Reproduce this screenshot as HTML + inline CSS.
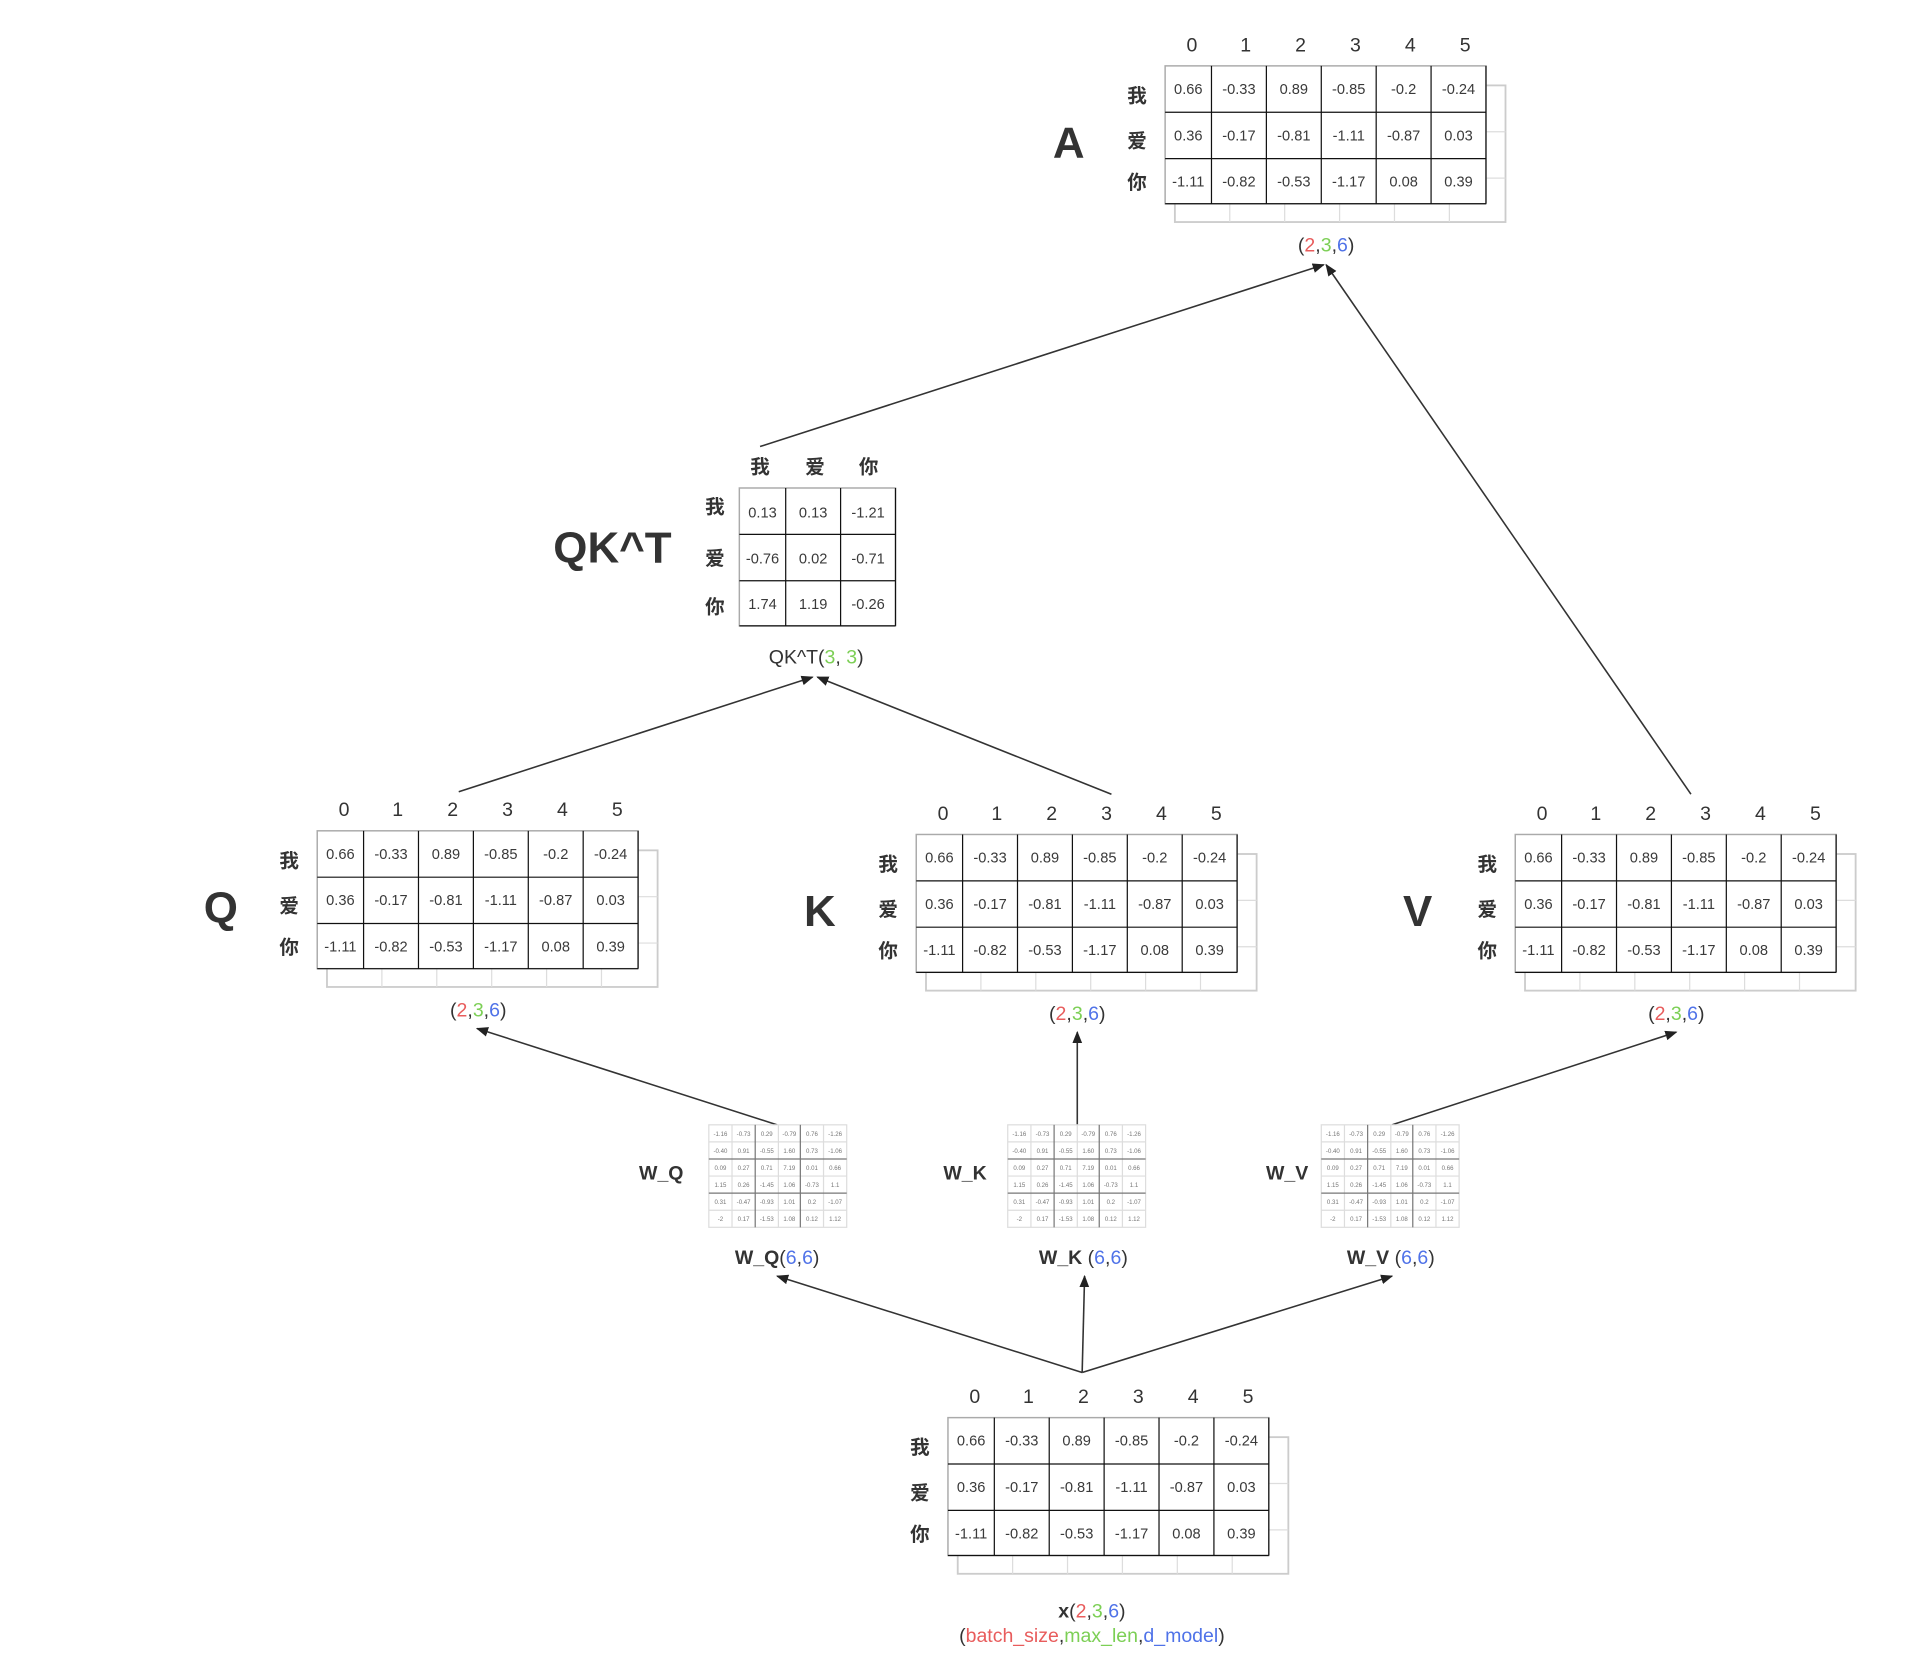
<!DOCTYPE html>
<html><head><meta charset="utf-8"><style>
html,body{margin:0;padding:0;background:#fff;}
svg{display:block;}
text{font-family:"Liberation Sans","Noto Sans CJK SC",sans-serif;fill:#333;}
.n{font-size:12px;text-anchor:middle;fill:#3a3a3a;}
.h{font-size:16px;text-anchor:middle;}
.c{font-size:16px;font-weight:bold;text-anchor:middle;font-family:"Noto Sans CJK SC","WenQuanYi Zen Hei",sans-serif;}
.big{font-size:36px;font-weight:bold;text-anchor:middle;}
.lab{font-size:16px;text-anchor:middle;}
.w{font-size:5px;text-anchor:middle;fill:#777;}
.r{fill:#e85c5c;}.g{fill:#7ccf55;}.b{fill:#4f72e8;}
</style></head><body>
<svg width="1913" height="1672" viewBox="0 0 1568 1370.5" xmlns="http://www.w3.org/2000/svg">
<defs>
<marker id="ar" markerWidth="10" markerHeight="10" refX="9" refY="5" orient="auto" markerUnits="userSpaceOnUse">
<path d="M0,1 L10,5 L0,9 z" fill="#222"/></marker>
<g id="mat">
<rect x="8" y="16" width="271" height="112" fill="#fff" stroke="#ccc" stroke-width="1.5"/>
<g stroke="#ddd" stroke-width="1">
<line x1="53" y1="113" x2="53" y2="128"/><line x1="98" y1="113" x2="98" y2="128"/><line x1="143" y1="113" x2="143" y2="128"/><line x1="188" y1="113" x2="188" y2="128"/><line x1="233" y1="113" x2="233" y2="128"/>
<line x1="263" y1="54" x2="279" y2="54"/><line x1="263" y1="92" x2="279" y2="92"/>
</g>
<rect x="0" y="0" width="263" height="113" fill="#fff" stroke="#aaa" stroke-width="1.2"/>
<g stroke="#111" stroke-width="1">
<line x1="38" y1="0" x2="38" y2="113"/><line x1="83" y1="0" x2="83" y2="113"/><line x1="128" y1="0" x2="128" y2="113"/><line x1="173" y1="0" x2="173" y2="113"/><line x1="218" y1="0" x2="218" y2="113"/>
<line x1="0" y1="38" x2="263" y2="38"/><line x1="0" y1="76" x2="263" y2="76"/>
<line x1="0" y1="113" x2="263" y2="113"/><line x1="263" y1="0" x2="263" y2="113"/>
</g>
<text class="n" x="19" y="23">0.66</text><text class="n" x="60.5" y="23">-0.33</text><text class="n" x="105.5" y="23">0.89</text><text class="n" x="150.5" y="23">-0.85</text><text class="n" x="195.5" y="23">-0.2</text><text class="n" x="240.5" y="23">-0.24</text>
<text class="n" x="19" y="61">0.36</text><text class="n" x="60.5" y="61">-0.17</text><text class="n" x="105.5" y="61">-0.81</text><text class="n" x="150.5" y="61">-1.11</text><text class="n" x="195.5" y="61">-0.87</text><text class="n" x="240.5" y="61">0.03</text>
<text class="n" x="19" y="99">-1.11</text><text class="n" x="60.5" y="99">-0.82</text><text class="n" x="105.5" y="99">-0.53</text><text class="n" x="150.5" y="99">-1.17</text><text class="n" x="195.5" y="99">0.08</text><text class="n" x="240.5" y="99">0.39</text>
<text class="h" x="22" y="-12">0</text><text class="h" x="66" y="-12">1</text><text class="h" x="111" y="-12">2</text><text class="h" x="156" y="-12">3</text><text class="h" x="201" y="-12">4</text><text class="h" x="246" y="-12">5</text>
<text class="c" x="-23" y="30">我</text><text class="c" x="-23" y="67">爱</text><text class="c" x="-23" y="101">你</text>
</g>
<g id="wm">
<rect x="0" y="0" width="113" height="84" fill="#fff" stroke="#ddd"/>
<g stroke="#ddd"><line x1="19" y1="0" x2="19" y2="84"/><line x1="57" y1="0" x2="57" y2="84"/><line x1="94" y1="0" x2="94" y2="84"/><line x1="0" y1="14" x2="113" y2="14"/><line x1="0" y1="42" x2="113" y2="42"/><line x1="0" y1="70" x2="113" y2="70"/></g>
<g stroke="#777"><line x1="38" y1="0" x2="38" y2="84"/><line x1="75" y1="0" x2="75" y2="84"/><line x1="0" y1="28" x2="113" y2="28"/><line x1="0" y1="56" x2="113" y2="56"/></g>
<text class="w" x="9.5" y="9">-1.16</text><text class="w" x="28.5" y="9">-0.73</text><text class="w" x="47.5" y="9">0.29</text><text class="w" x="66" y="9">-0.79</text><text class="w" x="84.5" y="9">0.76</text><text class="w" x="103.5" y="9">-1.26</text>
<text class="w" x="9.5" y="23">-0.40</text><text class="w" x="28.5" y="23">0.91</text><text class="w" x="47.5" y="23">-0.55</text><text class="w" x="66" y="23">1.60</text><text class="w" x="84.5" y="23">0.73</text><text class="w" x="103.5" y="23">-1.06</text>
<text class="w" x="9.5" y="37">0.09</text><text class="w" x="28.5" y="37">0.27</text><text class="w" x="47.5" y="37">0.71</text><text class="w" x="66" y="37">7.19</text><text class="w" x="84.5" y="37">0.01</text><text class="w" x="103.5" y="37">0.66</text>
<text class="w" x="9.5" y="51">1.15</text><text class="w" x="28.5" y="51">0.26</text><text class="w" x="47.5" y="51">-1.45</text><text class="w" x="66" y="51">1.06</text><text class="w" x="84.5" y="51">-0.73</text><text class="w" x="103.5" y="51">1.1</text>
<text class="w" x="9.5" y="65">0.31</text><text class="w" x="28.5" y="65">-0.47</text><text class="w" x="47.5" y="65">-0.93</text><text class="w" x="66" y="65">1.01</text><text class="w" x="84.5" y="65">0.2</text><text class="w" x="103.5" y="65">-1.07</text>
<text class="w" x="9.5" y="79">-2</text><text class="w" x="28.5" y="79">0.17</text><text class="w" x="47.5" y="79">-1.53</text><text class="w" x="66" y="79">1.08</text><text class="w" x="84.5" y="79">0.12</text><text class="w" x="103.5" y="79">1.12</text>
</g>
</defs>

<!-- arrows -->
<g stroke="#333" stroke-width="1.3" fill="none" marker-end="url(#ar)">
<line x1="887" y1="1125" x2="637" y2="1046"/>
<line x1="887" y1="1125" x2="889" y2="1046"/>
<line x1="887" y1="1125" x2="1141" y2="1046"/>
<line x1="637" y1="922" x2="391" y2="843"/>
<line x1="883" y1="922" x2="883" y2="846"/>
<line x1="1141" y1="922" x2="1374" y2="846"/>
<line x1="376" y1="649" x2="666" y2="555"/>
<line x1="911" y1="651" x2="670" y2="555"/>
<line x1="623" y1="366" x2="1085" y2="217"/>
<line x1="1386" y1="651" x2="1087" y2="217"/>
</g>

<!-- A -->
<use href="#mat" x="955" y="54"/>
<text class="big" x="876" y="129">A</text>
<text class="lab" x="1087" y="206">(<tspan class="r">2</tspan>,<tspan class="g">3</tspan>,<tspan class="b">6</tspan>)</text>

<!-- QK^T -->
<g transform="translate(606,400)">
<rect x="0" y="0" width="128" height="113" fill="#fff" stroke="#aaa" stroke-width="1.2"/>
<g stroke="#111"><line x1="38" y1="0" x2="38" y2="113"/><line x1="83" y1="0" x2="83" y2="113"/><line x1="0" y1="38" x2="128" y2="38"/><line x1="0" y1="76" x2="128" y2="76"/><line x1="0" y1="113" x2="128" y2="113"/><line x1="128" y1="0" x2="128" y2="113"/></g>
<text class="n" x="19" y="24">0.13</text><text class="n" x="60.5" y="24">0.13</text><text class="n" x="105.5" y="24">-1.21</text>
<text class="n" x="19" y="62">-0.76</text><text class="n" x="60.5" y="62">0.02</text><text class="n" x="105.5" y="62">-0.71</text>
<text class="n" x="19" y="99">1.74</text><text class="n" x="60.5" y="99">1.19</text><text class="n" x="105.5" y="99">-0.26</text>
<text class="c" x="17" y="-12">我</text><text class="c" x="62" y="-12">爱</text><text class="c" x="106" y="-12">你</text>
<text class="c" x="-20" y="21">我</text><text class="c" x="-20" y="63">爱</text><text class="c" x="-20" y="103">你</text>
</g>
<text class="big" x="502" y="461">QK^T</text>
<text class="lab" x="669" y="544">QK^T(<tspan class="g">3</tspan>, <tspan class="g">3</tspan>)</text>

<!-- Q K V -->
<use href="#mat" x="260" y="681"/>
<text class="big" x="181" y="756">Q</text>
<text class="lab" x="392" y="833">(<tspan class="r">2</tspan>,<tspan class="g">3</tspan>,<tspan class="b">6</tspan>)</text>
<use href="#mat" x="751" y="684"/>
<text class="big" x="672" y="759">K</text>
<text class="lab" x="883" y="836">(<tspan class="r">2</tspan>,<tspan class="g">3</tspan>,<tspan class="b">6</tspan>)</text>
<use href="#mat" x="1242" y="684"/>
<text class="big" x="1162" y="759">V</text>
<text class="lab" x="1374" y="836">(<tspan class="r">2</tspan>,<tspan class="g">3</tspan>,<tspan class="b">6</tspan>)</text>

<!-- W -->
<use href="#wm" x="581" y="922"/>
<use href="#wm" x="826" y="922"/>
<use href="#wm" x="1083" y="922"/>
<text class="lab" x="542" y="967" style="font-weight:bold">W_Q</text>
<text class="lab" x="791" y="967" style="font-weight:bold">W_K</text>
<text class="lab" x="1055" y="967" style="font-weight:bold">W_V</text>
<text class="lab" x="637" y="1036"><tspan style="font-weight:bold">W_Q</tspan>(<tspan class="b">6</tspan>,<tspan class="b">6</tspan>)</text>
<text class="lab" x="888" y="1036"><tspan style="font-weight:bold">W_K</tspan> (<tspan class="b">6</tspan>,<tspan class="b">6</tspan>)</text>
<text class="lab" x="1140" y="1036"><tspan style="font-weight:bold">W_V</tspan> (<tspan class="b">6</tspan>,<tspan class="b">6</tspan>)</text>

<!-- x -->
<use href="#mat" x="777" y="1162"/>
<text class="lab" x="895" y="1326"><tspan style="font-weight:bold">x</tspan>(<tspan class="r">2</tspan>,<tspan class="g">3</tspan>,<tspan class="b">6</tspan>)</text>
<text class="lab" x="895" y="1346">(<tspan class="r">batch_size</tspan>,<tspan class="g">max_len</tspan>,<tspan class="b">d_model</tspan>)</text>
</svg>
</body></html>
